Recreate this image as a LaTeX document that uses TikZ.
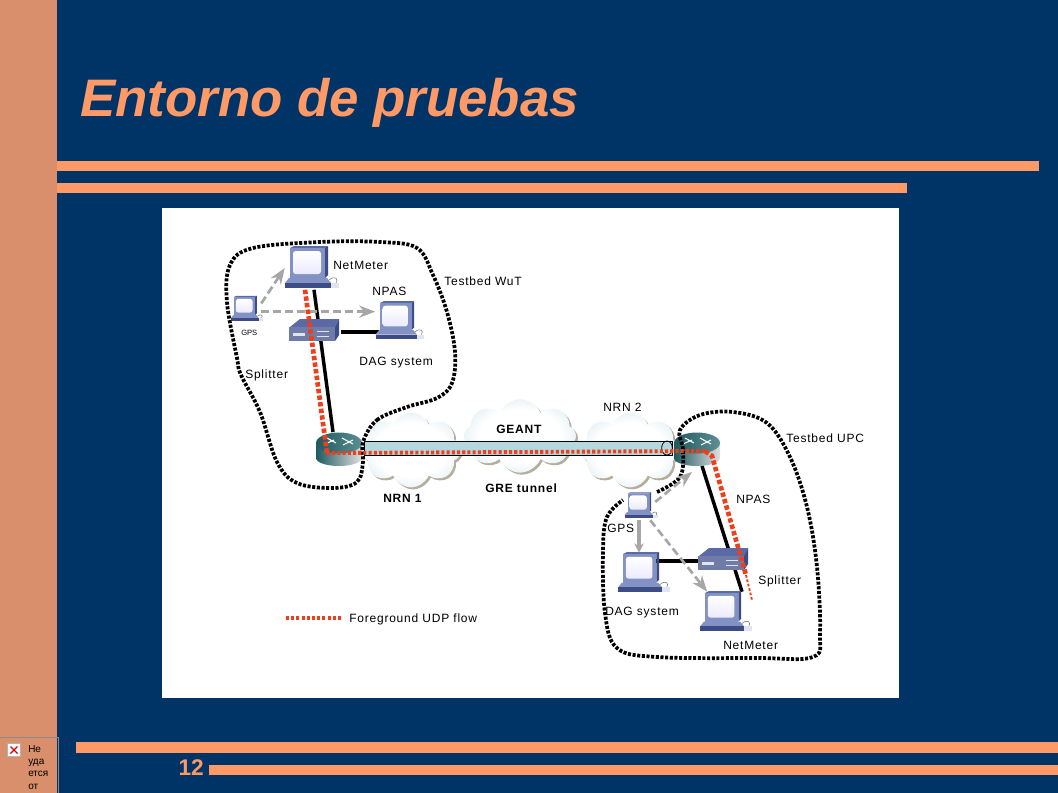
\documentclass[tikz,border=0pt]{standalone}
\usepackage{fontspec}
\setmainfont{Liberation Sans}
\newfontfamily\labfont[LetterSpace=6.5]{Liberation Sans}
\usetikzlibrary{arrows.meta,shapes.geometric,shapes.symbols,shadows}
\definecolor{navy}{HTML}{003366}
\definecolor{band}{HTML}{D98F6B}
\definecolor{peach}{HTML}{FF9966}
\definecolor{devfront}{HTML}{8292C4}
\definecolor{devside}{HTML}{3E4C85}
\definecolor{devtop}{HTML}{5A6AA6}
\definecolor{flowred}{HTML}{EE3F1A}
\definecolor{arrowgrey}{HTML}{A6A6A6}
\definecolor{tunnelblue}{HTML}{B5D8DF}
\definecolor{cloudpale}{HTML}{E2EFF4}
\definecolor{cloudedge}{HTML}{A3C6D4}
\definecolor{cloudshadow}{HTML}{B5AE9C}
\definecolor{routerdark}{HTML}{1E5A60}
\definecolor{routermid}{HTML}{5E8F94}
\pgfdeclareradialshading{cloudfill}{\pgfpointorigin}{
  color(0bp)=(white); color(18bp)=(white); color(28bp)=(cloudpale); color(36bp)=(cloudedge); color(70bp)=(cloudedge)}

\begin{document}
\begin{tikzpicture}[
  x=0.75pt, y=-0.75pt,
  >=Stealth,
  lab/.style={font=\labfont\fontsize{9}{11}\selectfont, anchor=west, inner sep=0pt},
  blab/.style={lab, font=\labfont\bfseries\fontsize{9}{11}\selectfont},
  devbox/.style={inner sep=0pt, minimum width=#1*0.75pt},
  netcloud/.style={
    cloud, cloud puffs=8, cloud puff arc=135, cloud ignores aspect, inner sep=0pt,
    shading=cloudfill,
    copy shadow={shadow xshift=1.5pt, shadow yshift=-1.5pt, fill=cloudshadow, draw=none},
  },
  wire/.style={line width=2.6pt, black},
  dots/.style={line width=2.8pt, black, dash pattern=on 2.3pt off 1.2pt},
  flow/.style={line width=3.5pt, flowred, dash pattern=on 3.3pt off 1.7pt},
  flowh/.style={line width=2.9pt, flowred, dash pattern=on 2.3pt off 1.6pt},
  flowthin/.style={line width=1.4pt, flowred, dash pattern=on 2pt off 1.4pt},
  gpsarr/.style={->, line width=2pt, arrowgrey, dash pattern=on 6pt off 3pt},
  gpssolid/.style={-{Stealth[length=7pt,width=7pt]}, line width=2.4pt, arrowgrey},
  computer/.pic={
    % monitor
    \fill[devtop] (-20,-20) -- (-16,-22) -- (18,-22) -- (15,-20) -- cycle;
    \fill[devside] (15,-20) -- (18,-22) -- (18,7) -- (15,10) -- cycle;
    \fill[devfront] (-20,-20) rectangle (15,10);
    \shade[rounded corners=2pt, top color=white, bottom color=blue!8!white] (-17,-17) rectangle (11,6);
    % base
    \fill[devfront] (-21,10) -- (17,10) -- (21,15) -- (-25,15) -- cycle;
    \fill[devside] (-25,15) -- (21,15) -- (21,20) -- (-25,20) -- cycle;
    % mouse
    \draw[black!55, line width=0.4pt] (19,12) .. controls (25,7) and (29,11) .. (26,15);
    \fill[white!75!devfront] (21,15) rectangle (29,20);
  },
  splitter/.pic={
    \fill[devtop] (-25,-5) -- (-15,-13) -- (24,-13) -- (20,-5) -- cycle;
    \fill[devside] (20,-5) -- (24,-13) -- (24,3) -- (20,9) -- cycle;
    \fill[devfront!85!black] (-26,-5) rectangle (20,9);
    \fill[white!75!devfront] (-22,1) rectangle (-10,4);
    \draw[white!75!devfront, line width=0.6pt] (2,-1) -- (14,-1) (2,4) -- (14,4);
  },
  router/.pic={
    \shade[left color=routerdark, right color=black!12!white]
      (-23,-6) -- (-23,9) arc[start angle=180, end angle=0, x radius=23, y radius=8]
      -- (23,-6) -- cycle;
    \shade[left color=routerdark, right color=routermid] (0,-6) ellipse[x radius=23, y radius=10.5];
    \draw[white, line width=0.8pt] (-14,-5) -- (-5,-9) (-12,-11) -- (-3,-6) (4,-4) -- (14,-9) (3,-11) -- (14,-5);
  },
]

% Slide
\useasboundingbox (0,0) rectangle (1058,793);
\fill[navy] (0,0) rectangle (1058,793);
\fill[band] (0,0) rectangle (57,793);
\fill[peach] (57,161) rectangle (1039,171);
\fill[peach] (57,183) rectangle (907,193);
\fill[peach] (76,742) rectangle (1058,753);
\fill[peach] (209,765) rectangle (1058,775);
\fill[white] (162,208) rectangle (899,698);
\node[font=\fontsize{39.6}{44}\selectfont\bfseries\itshape, text=peach, anchor=base west, inner sep=0pt] (title) at (80,116) {Entorno de pruebas};
\node[font=\fontsize{17}{20}\selectfont\bfseries, text=peach, anchor=east, inner sep=0pt] (pagenum) at (204,768) {12};

% Missing picture box
\draw[black!45, line width=0.5pt] (0,737) -- (58,737) -- (58,793);
\node[draw=black!30, fill=white, minimum size=9.5pt, inner sep=0pt] (brokenicon) at (14,750) {};
\draw[red!85!black, line width=1pt] (10.5,746.5) -- (17.5,753.5) (10.5,753.5) -- (17.5,746.5);
\begin{scope}
  \clip (0,737) rectangle (58,789);
  \node[font=\fontsize{7.5}{9.3}\selectfont, align=left, anchor=north west, inner sep=0pt] (brokentext) at (28,745) {Не\\уда\\ется\\от};
\end{scope}

% Devices
\node[devbox=50, minimum height=32.25pt] (netw) at (310,268) {};
\node[devbox=30, minimum height=20pt] (gpsa) at (246,309) {};
\node[devbox=45, minimum height=31.5pt] (npasw) at (398,321) {};
\node[devbox=52, minimum height=17pt] (spla) at (315,332) {};
\node[devbox=48, minimum height=25pt] (rtra) at (339,449) {};
\node[devbox=48, minimum height=25pt] (rtrb) at (697,449) {};
\node[devbox=30, minimum height=21pt] (gpsb) at (640,506) {};
\node[devbox=45, minimum height=30pt] (dagb) at (642,573) {};
\node[devbox=52, minimum height=17pt] (splb) at (724,561) {};
\node[devbox=45, minimum height=30pt] (netb) at (724,612) {};

% Clouds
\node[netcloud, minimum width=75pt, minimum height=56pt] (nrna) at (411,450) {};
\node[netcloud, minimum width=84pt, minimum height=55pt] (geant) at (520,436) {};
\node[netcloud, minimum width=75pt, minimum height=56pt] (nrnb) at (630,450) {};

% Tunnel
\node[draw=black, fill=tunnelblue, line width=0.7pt, minimum width=231pt, minimum height=10.5pt, inner sep=0pt] (tunnel) at (518,448) {};
\node[ellipse, draw=black, line width=0.6pt, minimum width=8pt, minimum height=10.5pt, inner sep=0pt] (tunnelend) at (667,448) {};

% Wires
\draw[wire] ([xshift=3pt]netw.south) -- ([xshift=-4.5pt]rtra.north);
\draw[wire] (spla) -- (spla -| npasw);
\draw[wire] ([xshift=3.75pt]rtrb.south) -- ([xshift=13.5pt]netb.north);
\draw[wire] (splb) -- (splb -| dagb);

% Device pictures
\pic at (netw) {computer};
\pic[scale=0.6] at (gpsa) {computer};
\pic[scale=0.9] at (npasw) {computer};
\pic at (spla) {splitter};
\pic at (rtra) {router};
\pic at (rtrb) {router};
\pic[scale=0.62] at (gpsb) {computer};
\pic[scale=0.95] at (dagb) {computer};
\pic at (splb) {splitter};
\pic[scale=0.95] at (netb) {computer};

% Testbed outlines
\draw[dots] plot[smooth cycle, tension=0.6] coordinates {(363,442) (377,420) (407,407) (437,398) (452,383) (455,352) (447,312) (433,275) (417,248) (380,242) (320,242) (253,248) (230,265) (227,302) (237,358) (241,375) (260,412) (277,462) (297,483) (333,488) (357,482) (363,462)};
\draw[dots] plot[smooth, tension=0.6] coordinates {(657,492) (680,477) (683,450) (680,430) (700,415) (733,412) (767,423) (790,457) (807,507) (817,567) (820,633) (813,657) (757,658) (657,657) (617,648) (605,613) (603,550) (607,517) (623,500)};

% GPS signal
\draw[gpsarr] (gpsa.20) -- (netw.west);
\draw[gpsarr] ([yshift=-2pt]gpsa.east) -- ([yshift=-2pt]gpsa.east -| npasw.west);
\draw[gpsarr] (gpsb.15) -- ([shift={(-3.75pt,-4.5pt)}]rtrb.south);
\draw[gpsarr] ([xshift=-3.75pt]gpsb.south east) -- ([xshift=4.5pt]netb.north west);
\draw[gpssolid] ([xshift=-0.75pt]gpsb.south) -- ([xshift=-2.25pt]dagb.north);

% Foreground flow
\coordinate (flowa) at (327,453);
\coordinate (flowb) at (705,451);
\coordinate (flowc) at (712,456);
\coordinate (flowd) at (746,575);
\coordinate (flowe) at (752,600);
\draw[flow] ([xshift=-3.75pt]netw.south) -- (flowa);
\draw[flowh] (flowa) -- (flowb);
\draw[flow] (flowb) -- (flowc) -- (flowd);
\draw[flowthin] (flowd) -- (flowe);

% Labels
\node[lab] (lnetw) at (333,265) {NetMeter};
\node[lab] (lwut) at (444,281) {Testbed WuT};
\node[lab] (lnpasw) at (372,291) {NPAS};
\node[lab, font=\fontsize{5.7}{7}\selectfont] (lgpsa) at (241,333) {GPS};
\node[lab] (ldagw) at (359,363) {DAG system};
\node[lab] (lspla) at (245,375) {Splitter};
\node[lab] (lnrnb) at (603,407) {NRN 2};
\node[blab] (lgeant) at (496,429) {GEANT};
\node[lab] (lupc) at (786,438) {Testbed UPC};
\node[blab] (lgre) at (485,488) {GRE tunnel};
\node[blab] (lnrna) at (383,498) {NRN 1};
\node[lab] (lnpasb) at (736,499) {NPAS};
\node[lab] (lgpsb) at (607,528) {GPS};
\node[lab] (lsplb) at (758,581) {Splitter};
\node[lab] (ldagb) at (605,613) {DAG system};
\node[lab] (lnetb) at (723,645) {NetMeter};

% Legend
\coordinate (legstart) at (286,618);
\node[lab] (legtext) at (349,619) {Foreground UDP flow};
\draw[flowh, shorten >=6pt] (legstart) -- (legstart -| legtext.west);

\end{tikzpicture}
\end{document}
